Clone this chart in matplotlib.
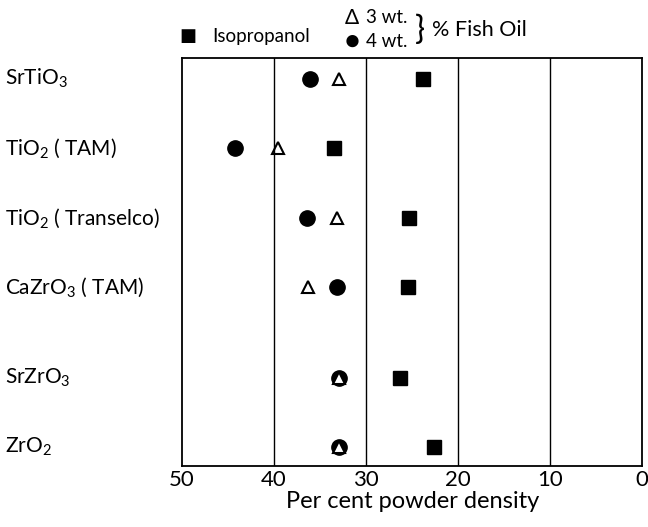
import matplotlib
matplotlib.use("Agg")
import matplotlib.pyplot as plt

plt.rcParams['font.family'] = ['Lato', 'DejaVu Sans']
plt.rcParams['mathtext.fontset'] = 'custom'
plt.rcParams['mathtext.rm'] = 'Lato'
plt.rcParams['mathtext.it'] = 'Lato'

# rows top to bottom (gap before SrZrO3 as in original)
materials = ['SrTiO$_3$', 'TiO$_2$ ( TAM)', 'TiO$_2$ ( Transelco)',
             'CaZrO$_3$ ( TAM)', 'SrZrO$_3$', 'ZrO$_2$']
row_pos = [0, 1, 2, 3, 4.3, 5.3]

isopropanol = [23.8, 33.5, 25.3, 25.4, 26.3, 22.6]
fish_oil_3wt = [32.9, 39.6, 33.2, 36.3, 33.0, 33.0]
fish_oil_4wt = [36.1, 44.2, 36.4, 33.2, 33.0, 33.0]

xticks = [50, 40, 30, 20, 10, 0]

fig = plt.figure(figsize=(6.48, 5.27), dpi=100)
ax = fig.add_axes([0.281, 0.116, 0.710, 0.774])

ax.plot(isopropanol, row_pos, 's', color='black', ms=9.5, ls='none')
ax.plot(fish_oil_4wt, row_pos, 'o', color='black', ms=11, ls='none')
ax.plot(fish_oil_3wt, row_pos, '^', mfc='white', mec='black', mew=1.5, ms=9, ls='none')

ax.set_xlim(50, 0)
ax.set_ylim(5.57, -0.3)
ax.set_xticks(xticks)
ax.set_xticklabels([str(t) for t in xticks], fontsize=16)
ax.set_yticks([])
ax.tick_params(axis='x', length=0, pad=3)
for t in [40, 30, 20, 10]:
    ax.axvline(t, color='black', lw=1.0)
for s in ax.spines.values():
    s.set_linewidth(1.3)
ax.set_xlabel('Per cent powder density', fontsize=17, labelpad=1)

# category labels on the left
for name, y in zip(materials, row_pos):
    ax.text(-0.385, y, name, transform=ax.get_yaxis_transform(),
            ha='left', va='center', fontsize=15)

# legend drawn by hand, like the original
fig.text(0.290, 0.931, '\u25A0', fontsize=13, ha='center', va='center')
fig.text(0.327, 0.931, 'Isopropanol', fontsize=13.5, ha='left', va='center')
fig.text(0.543, 0.966, '\u0394', fontsize=15, ha='center', va='center')
fig.text(0.565, 0.966, '3 wt.', fontsize=13.5, ha='left', va='center')
fig.text(0.543, 0.922, '\u25CF', fontsize=18, ha='center', va='center')
fig.text(0.565, 0.922, '4 wt.', fontsize=13.5, ha='left', va='center')
fig.text(0.648, 0.944, '}', fontsize=24, ha='center', va='center')
fig.text(0.667, 0.944, '% Fish Oil', fontsize=15.5, ha='left', va='center')

plt.savefig('out.png', dpi=100)
